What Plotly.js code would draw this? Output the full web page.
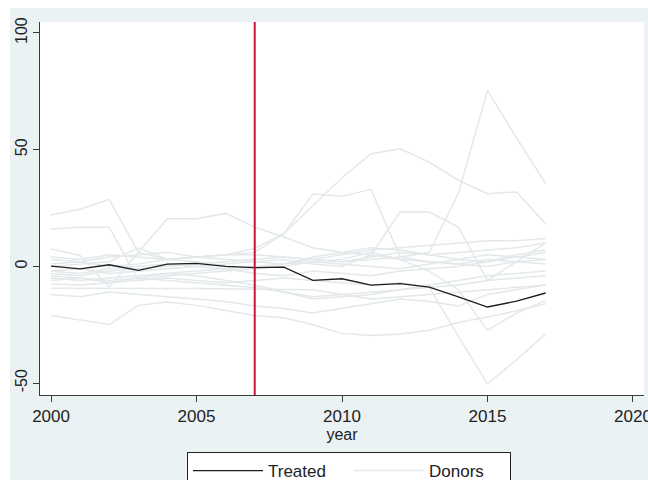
<!DOCTYPE html>
<html>
<head>
<meta charset="utf-8">
<script src="https://cdn.plot.ly/plotly-3.0.1.min.js"></script>
<style>html,body{margin:0;padding:0;background:#fff;}#chart{width:648px;height:480px;}</style>
</head>
<body>
<div id="chart"></div>
<script>
const years = [2000,2001,2002,2003,2004,2005,2006,2007,2008,2009,2010,2011,2012,2013,2014,2015,2016,2017];
const treated = [0.1,-1.1,0.7,-1.7,1.0,1.3,0.0,-0.5,-0.3,-6.0,-5.3,-8.0,-7.4,-8.9,-13.1,-17.4,-14.9,-11.4];
const donor01 = [22,24.5,28.7,6,3,4,5,5,4,3,2,4,6,5,3,2,4,6];
const donor02 = [16,16.8,16.8,-6,-4,-3,-2,-1,0,2,1,0,-1,1,3,5,4,3];
const donor03 = [7.5,4.7,-8.9,6.1,20.4,20.4,22.7,16.8,12.6,8,6,5,3,2,1,3,2,1];
const donor04 = [4,3,5,4,3,4,5,6,14,26,38,48.3,50.4,44.7,36.9,31.1,31.9,18.3];
const donor05 = [-3,-4,-2,-1,0,1,2,3,4,3,2,3,4,6,31.3,75.4,55,35.5];
const donor06 = [1,2,0,1,3,4,5,7.7,14,31,30,33,4,2,1,0,2,3];
const donor07 = [-2,-1,-3,-2,-1,0,1,2,3,1,0,5,23.3,23.3,16.8,-6,2,10];
const donor08 = [-6,-5,-7,-6,-5,-6,-7,-6,-5,-6,-7,-8,-7,-8.9,-30,-50.3,-40,-28.9];
const donor09 = [-5,-6,-5,-4,-3,-2,-1,0,1,2,3,6,3,-2,-10,-27.4,-20,-14.6];
const donor10 = [-21,-23.1,-24.9,-16.7,-15.3,-16.7,-18.9,-21,-22,-25,-28.7,-29.6,-29,-27.4,-24,-21.7,-19,-16];
const donor11 = [-9.4,-9.5,-9.6,-9.4,-9.5,-9.5,-9.6,-10,-10,-10,-12,-14,-13,-12,-11,-10,-9,-8];
const donor12 = [-7.5,-8,-7,-5,-6,-7,-8,-9,-11,-13,-12,-11,-10,-9,-8,-6,-5,-4];
const donor13 = [3,2,4,5,6,4,3,2,1,3,5,7,8,9,10,11,11,12];
const donor14 = [-2,-3,-1,0,1,0,-1,-3,-4,-2,-3,-4,-2,-1,0,2,5,7];
const donor15 = [-4,-5,-6,-5,-3,-4,-6,-8,-11,-14,-13,-12,-10,-8,-6,-4,-3,-2];
const donor16 = [0,1,2,8,3,2,0,-1,1,4,6,8,7,5,6,7,8,10];
const donor17 = [-12,-13,-11,-12,-13,-14,-15,-17,-18,-20,-18,-16,-14,-15,-17,-12,-10,-8];
const donors = [donor01,donor02,donor03,donor04,donor05,donor06,donor07,donor08,donor09,donor10,donor11,donor12,donor13,donor14,donor15,donor16,donor17];
const treatYear = 2007;
const xTicks = [2000,2005,2010,2015,2020];
const yTicks = [-50,0,50,100];

const FONT = 'Liberation Sans, Arial, sans-serif';
const donorColor = 'rgb(227,232,234)';

const traces = donors.map((d, i) => ({
  x: years, y: d, type: 'scatter', mode: 'lines',
  line: {color: donorColor, width: 1.5},
  name: 'Donors', legendgroup: 'donors', showlegend: i === 0, legendrank: 2,
  hoverinfo: 'skip'
}));
traces.push({
  x: years, y: treated, type: 'scatter', mode: 'lines',
  line: {color: '#1e1e1e', width: 1.3},
  name: 'Treated', legendrank: 1
});

const L = 40, R = 4, T = 22, B = 85, W = 648, H = 480;
const pw = W - L - R, ph = H - T - B;
const px = v => (v - L) / pw;
const py = v => (H - B - v) / ph;

const layout = {
  width: W, height: H,
  margin: {l: L, r: R, t: T, b: B, autoexpand: false},
  paper_bgcolor: 'rgb(234,242,243)',
  plot_bgcolor: '#ffffff',
  font: {family: FONT, size: 15, color: '#222'},
  showlegend: true,
  xaxis: {
    range: [1999.62, 2020.38], tickvals: xTicks, ticktext: xTicks.map(String),
    showgrid: false, zeroline: false, showline: true, linecolor: '#3a3a3a', linewidth: 1,
    ticks: 'outside', ticklen: 6, tickcolor: '#3a3a3a', ticklabeloverflow: 'allow',
    tickfont: {size: 17, family: FONT, color: '#222'},
    title: {text: 'year', font: {size: 16, family: FONT, color: '#222'}, standoff: 2}
  },
  yaxis: {
    range: [-55.1, 104.7], tickvals: yTicks, ticktext: yTicks.map(String),
    showgrid: false, zeroline: false, showline: true, linecolor: '#3a3a3a', linewidth: 1,
    ticks: 'outside', ticklen: 6, tickcolor: '#3a3a3a', tickangle: -90,
    tickfont: {size: 16, family: FONT, color: '#222'}
  },
  legend: {
    orientation: 'h', x: px(187), y: py(452), xanchor: 'left', yanchor: 'top',
    bgcolor: '#ffffff', bordercolor: '#222', borderwidth: 1,
    font: {size: 17, family: FONT, color: '#222'}, itemwidth: 70,
    entrywidth: 76, entrywidthmode: 'pixels',
    traceorder: 'normal'
  },
  shapes: [
    {type: 'rect', xref: 'paper', yref: 'paper', x0: px(0), x1: px(W), y0: py(8), y1: py(0),
     fillcolor: '#ffffff', line: {width: 0}, layer: 'below'},
    {type: 'rect', xref: 'paper', yref: 'paper', x0: px(0), x1: px(10), y0: py(H), y1: py(0),
     fillcolor: '#ffffff', line: {width: 0}, layer: 'below'},
    {type: 'line', xref: 'x', yref: 'paper', x0: treatYear, x1: treatYear, y0: 0, y1: 1,
     line: {color: 'rgb(200,20,60)', width: 2}}
  ]
};

Plotly.newPlot('chart', traces, layout, {displayModeBar: false, staticPlot: true});
</script>
</body>
</html>
